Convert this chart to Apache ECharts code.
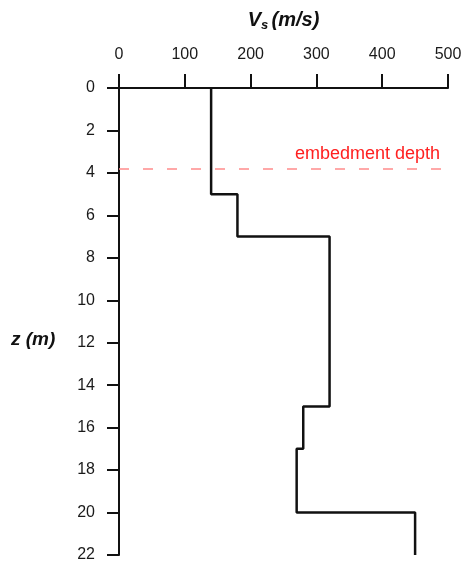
<!DOCTYPE html>
<html>
<head>
<meta charset="utf-8">
<title>Vs profile</title>
<script src="https://cdn.jsdelivr.net/npm/echarts@6/dist/echarts.min.js"></script>
</head>
<body style="margin:0">
<div id="main" style="width:469px;height:561px;"></div>
<script type="text/javascript">
// soil layers: top / bottom depth (m) and shear wave velocity (m/s)
var layerTop = [0, 5, 7, 15, 17, 20];
var layerBottom = [5, 7, 15, 17, 20, 22];
var vsValues = [140, 180, 320, 280, 270, 450];
var embedDepth = 3.8;
var xTicks = [0, 100, 200, 300, 400, 500];
var zTicks = [0, 2, 4, 6, 8, 10, 12, 14, 16, 18, 20, 22];

// step profile points
var points = [];
for (var i = 0; i < vsValues.length; i++) {
    points.push([vsValues[i], layerTop[i]]);
    points.push([vsValues[i], layerBottom[i]]);
}

var font = 'Liberation Sans, Arial, sans-serif';
var myChart = echarts.init(document.getElementById('main'));

var option = {
    backgroundColor: '#fff',
    animation: false,
    textStyle: { fontFamily: font },
    grid: { left: 119, right: 21, top: 88, bottom: 6, containLabel: false, outerBoundsMode: 'none' },
    xAxis: {
        type: 'value',
        position: 'top',
        min: xTicks[0],
        max: xTicks[xTicks.length - 1],
        interval: 100,
        name: '{v|V}{s|s} {v|(m/s)}',
        nameLocation: 'middle',
        nameGap: 56,
        nameTextStyle: {
            rich: {
                v: { fontSize: 20, fontWeight: 'bold', fontStyle: 'italic', color: '#111', fontFamily: font },
                s: { fontSize: 13, fontWeight: 'bold', fontStyle: 'italic', color: '#111', fontFamily: font, verticalAlign: 'bottom', padding: [10, 0, 0, 0] }
            }
        },
        axisLine: { lineStyle: { color: '#111', width: 2 } },
        axisTick: { length: 14, lineStyle: { color: '#111', width: 2 } },
        axisLabel: { fontSize: 16, color: '#1a1a1a', margin: 25 },
        splitLine: { show: false }
    },
    yAxis: {
        type: 'value',
        inverse: true,
        min: zTicks[0],
        max: zTicks[zTicks.length - 1],
        interval: 2,
        axisLine: { show: true, lineStyle: { color: '#111', width: 2 } },
        axisTick: { show: true, length: 12, lineStyle: { color: '#111', width: 2 } },
        axisLabel: { fontSize: 16, color: '#1a1a1a', margin: 24 },
        splitLine: { show: false }
    },
    graphic: [{
        type: 'text',
        left: 11,
        top: 330,
        style: { text: 'z (m)', fontSize: 19, fontWeight: 'bold', fontStyle: 'italic', fill: '#111', fontFamily: font }
    }],
    series: [{
        type: 'line',
        data: points,
        symbol: 'none',
        lineStyle: { color: '#111', width: 2.5 },
        markLine: {
            silent: true,
            symbol: 'none',
            itemStyle: { color: '#ff8c8c' },
            lineStyle: { color: '#ff8c8c', type: [10, 14], width: 1.5, opacity: 1 },
            label: {
                position: 'insideEndTop',
                formatter: 'embedment depth',
                color: '#ff2020',
                fontSize: 18,
                fontFamily: font,
                distance: [8, 6]
            },
            data: [{ yAxis: embedDepth }]
        }
    }]
};

myChart.setOption(option);
</script>
</body>
</html>
